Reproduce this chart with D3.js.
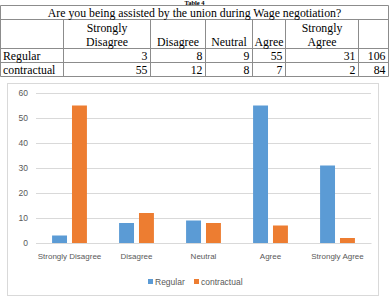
<!DOCTYPE html>
<html>
<head>
<meta charset="utf-8">
<script src="https://cdn.jsdelivr.net/npm/d3@7"></script>
<style>
  html, body { margin: 0; padding: 0; background: #fff; }
  svg { display: block; }
</style>
</head>
<body>
<div id="chart"></div>
<script>
const tableTitle = "Table 4";
const question = "Are you being assisted by the union during Wage negotiation?";
const categories = ["Strongly Disagree", "Disagree", "Neutral", "Agree", "Strongly Agree"];
const headerLines = [["Strongly", "Disagree"], ["", "Disagree"], ["", "Neutral"], ["", "Agree"], ["Strongly", "Agree"]];
const seriesNames = ["Regular", "contractual"];
const regular = [3, 8, 9, 55, 31];
const contractual = [55, 12, 8, 7, 2];
const totals = [106, 84];
const yTicks = [0, 10, 20, 30, 40, 50, 60];

const W = 389, H = 302;
const colors = {Regular: "#5b9bd5", contractual: "#ed7d31"};

const svg = d3.select("#chart").append("svg")
  .attr("width", W).attr("height", H)
  .attr("viewBox", [0, 0, W, H]);

// ---- table ----
const colX = [0.5, 63.5, 150.5, 205.5, 252.5, 285.5, 358.5, 388.5];
const rowY = [5.5, 19.5, 48.5, 62.5, 76.5];
const serif = "'Liberation Serif', 'Times New Roman', serif";
const tbl = svg.append("g").attr("font-family", serif).attr("font-size", 11.8).attr("fill", "#000");

// the caption sits right above the table, squeezed into the top strip
tbl.append("text")
  .attr("x", W / 2).attr("y", 5)
  .attr("text-anchor", "middle").attr("font-weight", "bold").attr("font-size", 6.5)
  .text(tableTitle);

const lineColor = "#8c8c8c";
tbl.selectAll("line.h").data(rowY).join("line")
  .attr("x1", colX[0]).attr("x2", colX[colX.length - 1])
  .attr("y1", d => d).attr("y2", d => d)
  .attr("stroke", lineColor);
tbl.append("line")
  .attr("x1", colX[0]).attr("x2", colX[0]).attr("y1", rowY[0]).attr("y2", rowY[4]).attr("stroke", lineColor);
tbl.append("line")
  .attr("x1", colX[7]).attr("x2", colX[7]).attr("y1", rowY[0]).attr("y2", rowY[4]).attr("stroke", lineColor);
tbl.selectAll("line.v").data(colX.slice(1, -1)).join("line")
  .attr("x1", d => d).attr("x2", d => d)
  .attr("y1", rowY[1]).attr("y2", rowY[4])
  .attr("stroke", lineColor);

tbl.append("text")
  .attr("x", W / 2).attr("y", 16.5)
  .attr("text-anchor", "middle")
  .text(question);

headerLines.forEach((lines, i) => {
  const cx = (colX[i + 1] + colX[i + 2]) / 2;
  lines.forEach((t, j) => {
    if (!t) return;
    tbl.append("text")
      .attr("x", cx).attr("y", 31.5 + j * 14)
      .attr("text-anchor", "middle")
      .text(t);
  });
});

[regular, contractual].forEach((vals, r) => {
  const y = 59.5 + r * 14;
  tbl.append("text").attr("x", 3).attr("y", y).text(seriesNames[r]);
  vals.forEach((v, i) => {
    tbl.append("text")
      .attr("x", colX[i + 2] - 3).attr("y", y)
      .attr("text-anchor", "end")
      .text(v);
  });
  tbl.append("text")
    .attr("x", colX[7] - 3).attr("y", y)
    .attr("text-anchor", "end")
    .text(totals[r]);
});

// ---- chart ----
svg.append("rect")
  .attr("x", 7.5).attr("y", 83.5).attr("width", 371).attr("height", 212)
  .attr("fill", "#fff").attr("stroke", "#d9d9d9");

const plot = {left: 36, right: 371, top: 93, bottom: 243};
const sans = "'Liberation Sans', Arial, sans-serif";
const textColor = "#595959";

const y = d3.scaleLinear().domain([0, 60]).range([plot.bottom, plot.top]);
const x0 = d3.scaleBand().domain(categories).range([plot.left, plot.right]).paddingInner(0.48).paddingOuter(0.24);
const x1 = d3.scaleBand().domain(seriesNames).range([0, x0.bandwidth()]).paddingInner(0.25);

const yAxis = d3.axisLeft(y).tickValues(yTicks).tickSize(-(plot.right - plot.left)).tickPadding(8);
svg.append("g")
  .attr("transform", `translate(${plot.left},0)`)
  .call(yAxis)
  .call(g => g.select(".domain").remove())
  .call(g => g.selectAll(".tick line").attr("stroke", "#d9d9d9"))
  .call(g => g.selectAll(".tick text")
    .attr("fill", textColor).attr("font-family", sans).attr("font-size", 8.5));

const table = categories.map((c, i) => ({cat: c, Regular: regular[i], contractual: contractual[i]}));

svg.append("g")
  .selectAll("g")
  .data(table)
  .join("g")
  .attr("transform", d => `translate(${x0(d.cat)},0)`)
  .selectAll("rect")
  .data(d => seriesNames.map(s => ({s, v: d[s]})))
  .join("rect")
  .attr("x", d => x1(d.s))
  .attr("y", d => y(d.v))
  .attr("width", x1.bandwidth())
  .attr("height", d => y(0) - y(d.v))
  .attr("fill", d => colors[d.s]);

const xAxis = d3.axisBottom(x0).tickSize(0).tickPadding(10);
svg.append("g")
  .attr("transform", `translate(0,${plot.bottom})`)
  .call(xAxis)
  .call(g => g.select(".domain").attr("stroke", "#d9d9d9"))
  .call(g => g.selectAll(".tick text")
    .attr("fill", textColor).attr("font-family", sans).attr("font-size", 8));

// legend
const legend = svg.append("g").attr("font-family", sans).attr("font-size", 8.5).attr("fill", textColor);
const legendX = [148, 194];
seriesNames.forEach((s, i) => {
  legend.append("rect")
    .attr("x", legendX[i]).attr("y", 279).attr("width", 5).attr("height", 5)
    .attr("fill", colors[s]);
  legend.append("text")
    .attr("x", legendX[i] + 7).attr("y", 285)
    .text(s);
});
</script>
</body>
</html>
